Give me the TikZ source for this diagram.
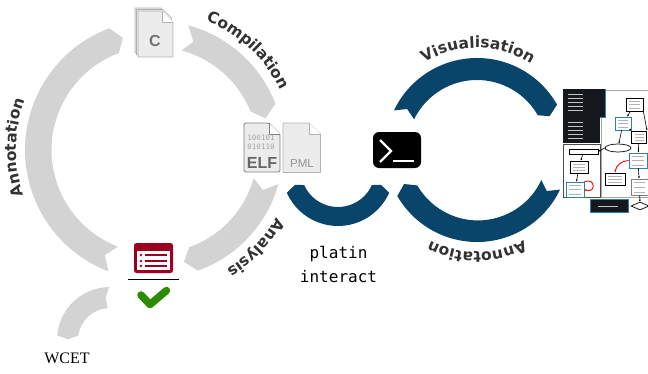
\documentclass[tikz,border=0pt]{standalone}
\usepackage{fontspec}
\usepackage{xcolor}
\setmainfont{Liberation Sans}
\newfontfamily\labelfont{Liberation Serif}
\newfontfamily\codefont{DejaVu Sans Mono}
\newfontfamily\bandfont{DejaVu Sans}
\usetikzlibrary{arrows.meta, positioning, shapes.geometric, decorations.text}
\definecolor{bandgray}{HTML}{D3D3D3}
\definecolor{bandblue}{HTML}{09446B}
\definecolor{listred}{HTML}{9C0020}
\definecolor{checkgreen}{HTML}{2B8C00}
\definecolor{pagefill}{HTML}{ECECEC}
\definecolor{codedark}{HTML}{15181C}
\definecolor{frameblue}{HTML}{2F7FA8}
\tikzset{
    grayband/.style={fill=bandgray},
    blueband/.style={fill=bandblue},
    arclabel/.style={decorate, decoration={text along path, text align=center,
        text={|\bandfont\fontsize{15.5}{15.5}\selectfont\bfseries\color{black!80}|#1}}},
    pagesheet/.style={fill=pagefill, draw=gray!60, line width=0.6pt, line join=round},
    thumbbox/.style={draw, fill=white, line width=0.7pt, inner sep=0pt, path picture={
        \draw[gray!60, line width=0.5pt] ([xshift=3pt,yshift=-3pt]path picture bounding box.north west) -- ([xshift=-3pt,yshift=-3pt]path picture bounding box.north east);
        \draw[gray!60, line width=0.5pt] ([xshift=3pt]path picture bounding box.west) -- ([xshift=-3pt]path picture bounding box.east);
        \draw[gray!60, line width=0.5pt] ([xshift=3pt,yshift=3pt]path picture bounding box.south west) -- ([xshift=-3pt,yshift=3pt]path picture bounding box.south east);
    }},
    thumbedge/.style={-{Latex[length=2pt,width=2pt]}, line width=0.6pt},
    codepanel/.style={fill=codedark, draw=frameblue, line width=0.7pt},
}

\begin{document}
\begin{tikzpicture}[x=1pt, y=1pt]
    \useasboundingbox (0,0) rectangle (648,373);

    % Left cycle
    \begin{scope}[shift={(155,223)}]
        % Annotation
        \fill[grayband] (110.5:130) arc[start angle=110.5, end angle=249, radius=130]
            -- (244.5:116.5) -- (249:103.5) arc[start angle=249, end angle=110.5, radius=103.5]
            -- (106:116.5) -- cycle;
        % Compilation
        \fill[grayband] (75:129) arc[start angle=75, end angle=21, radius=129]
            -- (16:115) -- (22:103) arc[start angle=22, end angle=75, radius=103]
            -- (70.5:115) -- cycle;
        % Analysis
        \fill[grayband] (-15.5:128) arc[start angle=-15.5, end angle=-70.5, radius=128]
            -- (-75.5:115.5) -- (-70.5:103) arc[start angle=-70.5, end angle=-15.5, radius=102]
            -- (-20.3:115) -- cycle;
        \path[arclabel=Compilation] (85:139) arc[start angle=85, end angle=9, radius=139];
        \path[arclabel=Analysis] (-9:139) arc[start angle=-9, end angle=-79, radius=139];
        \path[arclabel=Annotation] (220:139) arc[start angle=220, end angle=138, radius=139];
    \end{scope}

    % WCET
    \fill[grayband, shift={(110,33)}] (91:53) arc[start angle=91, end angle=175, radius=53]
        -- (179:42) -- (172:32) arc[start angle=172, end angle=94, radius=32]
        -- (96:42) -- cycle;
    \node[font=\labelfont\fontsize{16}{16}\selectfont] (wcet) at (67,15) {WCET};

    % Right cycle
    \begin{scope}[shift={(477,223)}]
        % Visualisation
        \fill[blueband] (154.5:92) arc[start angle=154.5, end angle=29.5, radius=92]
            -- (25:80) -- (29.8:70) arc[start angle=29.8, end angle=154, radius=70]
            -- (149.6:81) -- cycle;
        % Annotation
        \fill[blueband] (210:92) arc[start angle=210, end angle=334.5, radius=92]
            -- (329.6:81) -- (335:71) arc[start angle=335, end angle=210, radius=70]
            -- (205:80.5) -- cycle;
        \path[arclabel=Visualisation] (135:102) arc[start angle=135, end angle=44, radius=102];
        \path[arclabel=Annotation] (-45:102) arc[start angle=-45, end angle=-135, radius=102];
    \end{scope}

    % Interaction with the shell
    \fill[blueband, shift={(338,203)}] (204:56) arc[start angle=204, end angle=336, radius=56]
        -- (341:45.5) -- (336:37) arc[start angle=336, end angle=204, radius=37]
        -- (199:45.5) -- cycle;
    \node[font=\codefont\fontsize{16}{24}\selectfont, align=center] (platin) at (338.5,109) {platin\\interact};

    % Source files
    \draw[pagesheet] (135,365) -- (161,365) -- (170,356) -- (170,320) -- (135,320) -- cycle;
    \draw[pagesheet] (136.5,363.5) -- (163,363.5) -- (171.5,355) -- (171.5,318) -- (136.5,318) -- cycle;
    \draw[pagesheet] (138,362) -- (162,362) -- (173,351) -- (173,316) -- (138,316) -- cycle;
    \draw[pagesheet, fill=white] (162,362) -- (162,351) -- (173,351);
    \node[font=\bfseries\fontsize{16}{16}\selectfont, text=gray!110] (csource) at (155,332) {C};

    % Binary
    \draw[pagesheet, draw=gray, line width=0.9pt, rounded corners=1.5pt] (244,250) -- (269,250) -- (280,239) -- (280,201) -- (244,201) -- cycle;
    \draw[pagesheet, draw=gray, line width=0.6pt, fill=white] (269,250) -- (269,239) -- (280,239);
    \node[font=\codefont\fontsize{7.5}{9.5}\selectfont, text=gray!70, align=center] (bits) at (261,230.5) {100101\\010110};
    \node[font=\bfseries\fontsize{16}{16}\selectfont, text=black!60] (elf) at (262,210.5) {ELF};

    % Annotations file
    \draw[pagesheet] (283,250) -- (309,250) -- (320.5,239) -- (320.5,200.5) -- (283,200.5) -- cycle;
    \draw[pagesheet, fill=white] (309,250) -- (309,239) -- (320.5,239);
    \node[font=\fontsize{11.5}{11.5}\selectfont, text=gray!85] (pml) at (302,209) {PML};

    % Shell icon
    \node[fill=black, rounded corners=6pt, minimum width=48pt, minimum height=36pt, inner sep=0pt] (shell) at (397,223) {};
    \coordinate (promptup) at (380,233);
    \coordinate (promptmid) at (391,222);
    \coordinate (promptdown) at (380,211);
    \draw[white, line width=2.2pt] (promptup) -- (promptmid) -- (promptdown);
    \draw[white, line width=2.2pt] (393,212) -- (414,212);

    % Result icon
    \node[fill=listred, rounded corners=2.5pt, minimum width=39pt, minimum height=30pt, inner sep=0pt] (results) at (153.5,115) {};
    \fill[white] (137,103) rectangle (170,122);
    \foreach \y in {118,112,107} {
        \fill[listred] (141,\y) circle (1.3);
        \draw[listred, line width=1.5pt] (145,\y) -- (167,\y);
    }
    \draw[line width=0.8pt] (128,93.5) -- (179,93.5);
    \draw[checkgreen, line width=7.5pt, line cap=round, line join=round] (141,78) -- (150,68.5) -- (166.5,82.5);

    % Thumbnail of the visualisation
    \draw[gray!70, line width=0.8pt] (601,283) rectangle (648,176);
    \draw[black!70, line width=0.8pt] (563,229) rectangle (600,176);
    \fill[codedark] (563,284) rectangle (605,256);
    \draw[frameblue, line width=0.7pt] (563,256) -- (605,256) -- (605,284);
    \fill[codedark] (563,256) rectangle (600,230);
    \draw[codepanel] (590,174) rectangle (628,161);
    \foreach \y in {279,275,271,267,263,251,247,243,239,235}
        \draw[gray!45, line width=0.4pt] (568,\y) -- (583,\y);
    \draw[gray!45, line width=0.4pt] (598,167) -- (618,167);

    \node[thumbbox, minimum width=17pt, minimum height=13pt] (top) at (634.5,268.5) {};
    \node[thumbbox, draw=frameblue, minimum width=16pt, minimum height=13pt] (call) at (623,249.5) {};
    \node[thumbbox, line width=1pt, minimum width=15pt, minimum height=12pt] (mid) at (639,236) {};
    \node[draw, ellipse, fill=white, line width=0.7pt, minimum width=26pt, minimum height=8pt, inner sep=0pt] (fork) at (618,225) {};
    \node[thumbbox, draw=frameblue, minimum width=18pt, minimum height=15pt] (loop) at (638,212.5) {};
    \node[thumbbox, minimum width=20pt, minimum height=12pt] (side) at (615,194) {};
    \node[thumbbox, draw=gray, line width=1pt, minimum width=17pt, minimum height=16pt] (join) at (639.5,186) {};
    \node[draw, diamond, fill=white, line width=0.7pt, minimum width=18pt, minimum height=8pt, inner sep=0pt] (stop) at (640,167) {};
    \node[thumbbox, minimum width=29pt, minimum height=5pt, path picture={}] (entry) at (583.5,221.5) {};
    \node[thumbbox, minimum width=18pt, minimum height=12pt] (body) at (579,206) {};
    \node[thumbbox, draw=frameblue, minimum width=18pt, minimum height=15pt] (exit) at (575,183.5) {};

    \draw[thumbedge] (top) -- (call);
    \draw[thumbedge] (top.south east) -- (mid.north east);
    \draw[thumbedge] (call) -- (fork);
    \draw[thumbedge] (call) -- (mid);
    \draw[thumbedge] (mid) -- (loop);
    \draw[thumbedge] (fork.west) -- (entry.east);
    \draw[thumbedge] (entry) -- (body);
    \draw[thumbedge] (body) -- (exit);
    \draw[thumbedge] (loop) -- (join);
    \draw[thumbedge] (join) -- (stop);
    \draw[thumbedge, red, line width=0.9pt] (loop.west) to[bend right=40] (side.north);
    \draw[thumbedge, red, line width=0.9pt] (exit.north east) to[out=20, in=-20, looseness=4] (exit.east);
\end{tikzpicture}
\end{document}
